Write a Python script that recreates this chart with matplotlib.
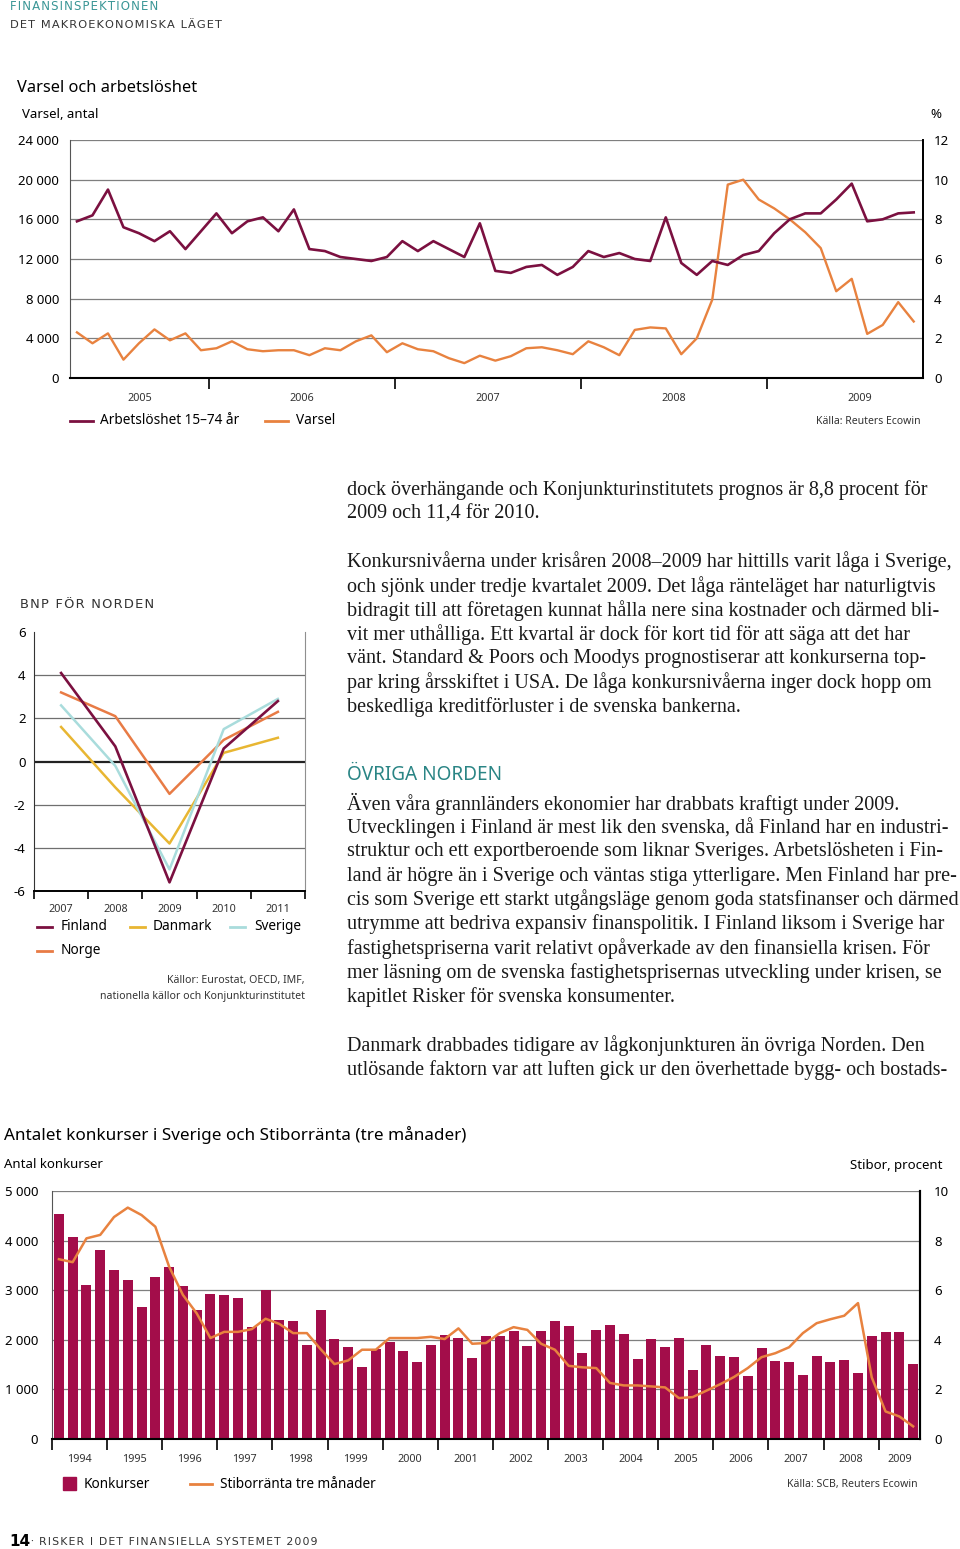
import matplotlib
matplotlib.use('Agg')
import matplotlib.pyplot as plt
import matplotlib.ticker as mticker
from matplotlib.lines import Line2D
from matplotlib.patches import Rectangle
import numpy as np

W, H = 960, 1549

# ── data: Varsel och arbetslöshet (monthly, Apr 2005 - Oct 2009) ──────────────
start_month = 4
arbetsloshet = [7.9, 8.2, 9.5, 7.6, 7.3, 6.9, 7.4, 6.5, 7.4, 8.3, 7.3, 7.9, 8.1, 7.4, 8.5,
                6.5, 6.4, 6.1, 6.0, 5.9, 6.1, 6.9, 6.4, 6.9, 6.5, 6.1, 7.8,
                5.4, 5.3, 5.6, 5.7, 5.2, 5.6, 6.4, 6.1, 6.3, 6.0, 5.9, 8.1, 5.8, 5.2, 5.9,
                5.7, 6.2, 6.4, 7.3, 8.0, 8.3, 8.3, 9.0, 9.8, 7.9, 8.0, 8.3, 8.35]
varsel = [4600, 3500, 4500, 1850, 3500, 4900, 3800, 4500, 2800, 3000, 3700, 2900, 2700, 2800,
          2800, 2300, 3000, 2800, 3700, 4300, 2600, 3500, 2900, 2700, 2000, 1500, 2250,
          1750, 2200, 3000, 3100, 2800, 2400, 3700, 3100, 2300, 4850, 5100, 5000, 2400, 4000,
          7900, 19500, 20000, 18000, 17100, 16000, 14700, 13100, 8750, 10000, 4450, 5350, 7650, 5700]
varsel_years = ['2005', '2006', '2007', '2008', '2009']

# ── data: BNP för Norden ──────────────────────────────────────────────────────
bnp_years = ['2007', '2008', '2009', '2010', '2011']
finland = [4.1, 0.7, -5.6, 0.6, 2.8]
danmark = [1.6, -1.2, -3.8, 0.4, 1.1]
sverige = [2.6, -0.2, -5.0, 1.5, 2.9]
norge = [3.2, 2.1, -1.5, 1.0, 2.3]

# ── data: Konkurser och Stibor (quarterly, 1994Q1 - 2009Q3) ───────────────────
konk_years = [str(y) for y in range(1994, 2010)]
konkurser = [4540, 4080, 3110, 3820, 3400, 3200, 2660, 3270, 3460, 3080, 2600, 2920,
             2910, 2840, 2260, 3000, 2400, 2380, 1890, 2610, 2010, 1860, 1450, 1820,
             1950, 1770, 1550, 1890, 2090, 2030, 1640, 2070, 2070, 2170, 1870, 2170,
             2380, 2270, 1730, 2200, 2290, 2110, 1610, 2010, 1850, 2030, 1390, 1890,
             1670, 1650, 1280, 1830, 1580, 1560, 1290, 1680, 1560, 1600, 1330, 2070,
             2160, 2150, 1520]
stibor = [7.25, 7.13, 8.09, 8.23, 8.95, 9.33, 9.03, 8.56, 6.95, 5.81, 5.07, 4.07,
          4.32, 4.32, 4.43, 4.85, 4.64, 4.27, 4.27, 3.62, 3.02, 3.17, 3.60, 3.60,
          4.07, 4.07, 4.07, 4.12, 4.03, 4.46, 3.84, 3.87, 4.27, 4.51, 4.40, 3.84,
          3.60, 2.95, 2.89, 2.86, 2.26, 2.16, 2.16, 2.12, 2.08, 1.65, 1.69, 1.95,
          2.21, 2.50, 2.86, 3.30, 3.46, 3.70, 4.27, 4.67, 4.83, 4.97, 5.48, 2.48,
          1.11, 0.91, 0.51]

# ── colours ──
PURPLE = '#7B1040'
ORANGE = '#E8823F'
BAR = '#A30D4A'
DAN = '#E8B632'
SVE = '#A9DCDC'
NOR = '#E87B45'
TEAL = '#3A9696'
GRID = '#7f7f7f'
SANS = ['Noto Sans', 'DejaVu Sans']
SERIF = ['Liberation Serif', 'DejaVu Serif']

plt.rcParams['font.family'] = SANS
fig = plt.figure(figsize=(W / 100, H / 100), dpi=100)


def fx(x):
    return x / W


def fy(y):
    return 1 - y / H


def rect(l, t, r, b):
    return [l / W, 1 - b / H, (r - l) / W, (b - t) / H]


def txt(x, y, s, size, ha='left', **kw):
    fig.text(fx(x), fy(y), s, fontsize=size, ha=ha, va='center', **kw)


def spaced(s):
    return '\u200a'.join(s)


def hline(x0, x1, y, color, lw=2):
    fig.add_artist(Line2D([fx(x0), fx(x1)], [fy(y), fy(y)], color=color, lw=lw,
                          transform=fig.transFigure))


thousands = mticker.FuncFormatter(lambda v, p: f'{int(v):,}'.replace(',', ' '))

# ── header ──
txt(10, 7, spaced('FINANSINSPEKTIONEN'), 8.5, color=TEAL, family=['DejaVu Sans'])
txt(10, 25, spaced('DET MAKROEKONOMISKA LÄGET'), 8.2, color='#333333', family=['DejaVu Sans'])

# ── chart 1: Varsel och arbetslöshet ─────────────────────────────────────────
txt(17, 88, 'Varsel och arbetslöshet', 11.8)
txt(22, 115, 'Varsel, antal', 9.5)
txt(930, 115, '%', 9.5)

n1 = len(varsel)
x1 = np.arange(n1)
ax1 = fig.add_axes(rect(70, 140, 923, 378))
ax1.set_xlim(-0.45, n1 - 0.4)
ax1.set_ylim(0, 24000)
ax1.plot(x1, varsel, color=ORANGE, lw=1.7, zorder=3)
ax1.set_yticks(range(0, 24001, 4000))
ax1.yaxis.set_major_formatter(thousands)
ax1.grid(axis='y', color=GRID, lw=0.9)
ax1.set_axisbelow(True)
ax1.tick_params(axis='y', length=0, pad=8, labelsize=9.5)

bounds = [i - 0.5 for i in range(n1) if (start_month - 1 + i) % 12 == 0]
edges = [ax1.get_xlim()[0]] + bounds + [bounds[-1] + 12]
centers = [(edges[i] + edges[i + 1]) / 2 for i in range(len(edges) - 1)]
ax1.set_xticks(bounds)
ax1.set_xticklabels([])
ax1.tick_params(axis='x', which='major', length=8, width=1.2, direction='out')
ax1.set_xticks(centers, minor=True)
ax1.set_xticklabels(varsel_years, minor=True)
ax1.tick_params(axis='x', which='minor', length=0, pad=11, labelsize=7.8, labelcolor='#333333')
ax1.spines['top'].set_visible(False)
ax1.spines['left'].set_color('#555555')
ax1.spines['bottom'].set_linewidth(1.5)
ax1.spines['right'].set_linewidth(1.3)

ax1r = ax1.twinx()
ax1r.set_ylim(0, 12)
ax1r.plot(x1, arbetsloshet, color=PURPLE, lw=1.9, zorder=4)
ax1r.set_yticks(range(0, 13, 2))
ax1r.tick_params(axis='y', length=0, pad=8, labelsize=9.5)
for s in ['top', 'left', 'bottom']:
    ax1r.spines[s].set_visible(False)
ax1r.spines['right'].set_linewidth(1.3)

hline(70, 93, 421, PURPLE)
txt(100, 421, 'Arbetslöshet 15–74 år', 9.8)
hline(265, 288, 421, ORANGE)
txt(296, 421, 'Varsel', 9.8)
txt(921, 421, 'Källa: Reuters Ecowin', 7.5, ha='right', color='#333333')

# ── chart 2: BNP för Norden ───────────────────────────────────────────────────
txt(20, 605, spaced('BNP FÖR NORDEN'), 9.4, color='#333333', family=['DejaVu Sans'])
ax2 = fig.add_axes(rect(34, 632, 305, 891))
xb = np.arange(len(bnp_years))
ax2.set_xlim(-0.5, len(bnp_years) - 0.5)
ax2.set_ylim(-6, 6)
ax2.plot(xb, norge, color=NOR, lw=1.8)
ax2.plot(xb, danmark, color=DAN, lw=1.8)
ax2.plot(xb, sverige, color=SVE, lw=1.8)
ax2.plot(xb, finland, color=PURPLE, lw=1.9)
ax2.set_yticks(range(-6, 7, 2))
ax2.yaxis.set_major_formatter(mticker.FuncFormatter(lambda v, p: f'{int(v)}'))
for v in [-4, -2, 2, 4]:
    ax2.axhline(v, color='#6f6f6f', lw=0.9, zorder=0)
ax2.axhline(0, color='#222222', lw=1.6, zorder=1)
ax2.tick_params(axis='y', length=0, pad=6, labelsize=9.5)
ax2.set_xticks(np.arange(-0.5, len(bnp_years)))
ax2.set_xticklabels([])
ax2.tick_params(axis='x', which='major', length=6, width=1.2, direction='out')
ax2.set_xticks(xb, minor=True)
ax2.set_xticklabels(bnp_years, minor=True)
ax2.tick_params(axis='x', which='minor', length=0, pad=9, labelsize=7.8, labelcolor='#333333')
ax2.spines['top'].set_visible(False)
ax2.spines['right'].set_color('#8f8f8f')
ax2.spines['left'].set_color('#333333')
ax2.spines['bottom'].set_linewidth(1.4)

hline(37, 52, 927, PURPLE)
txt(61, 927, 'Finland', 9.8)
hline(130, 145, 927, DAN)
txt(153, 927, 'Danmark', 9.8)
hline(230, 245, 927, SVE)
txt(254, 927, 'Sverige', 9.8)
hline(37, 52, 951, NOR)
txt(61, 951, 'Norge', 9.8)
txt(305, 981, 'Källor: Eurostat, OECD, IMF,', 7.6, ha='right', color='#333333')
txt(305, 997, 'nationella källor och Konjunkturinstitutet', 7.6, ha='right', color='#333333')

# ── body text ──
body = [
    (490, 'dock överhängande och Konjunkturinstitutets prognos är 8,8 procent för'),
    (514, '2009 och 11,4 för 2010.'),
    (562, 'Konkursnivåerna under krisåren 2008–2009 har hittills varit låga i Sverige,'),
    (587, 'och sjönk under tredje kvartalet 2009. Det låga ränteläget har naturligtvis'),
    (611, 'bidragit till att företagen kunnat hålla nere sina kostnader och därmed bli-'),
    (635, 'vit mer uthålliga. Ett kvartal är dock för kort tid för att säga att det har'),
    (659, 'vänt. Standard & Poors och Moodys prognostiserar att konkurserna top-'),
    (683, 'par kring årsskiftet i USA. De låga konkursnivåerna inger dock hopp om'),
    (707, 'beskedliga kreditförluster i de svenska bankerna.'),
    (804, 'Även våra grannländers ekonomier har drabbats kraftigt under 2009.'),
    (828, 'Utvecklingen i Finland är mest lik den svenska, då Finland har en industri-'),
    (852, 'struktur och ett exportberoende som liknar Sveriges. Arbetslösheten i Fin-'),
    (876, 'land är högre än i Sverige och väntas stiga ytterligare. Men Finland har pre-'),
    (900, 'cis som Sverige ett starkt utgångsläge genom goda statsfinanser och därmed'),
    (924, 'utrymme att bedriva expansiv finanspolitik. I Finland liksom i Sverige har'),
    (949, 'fastighetspriserna varit relativt opåverkade av den finansiella krisen. För'),
    (973, 'mer läsning om de svenska fastighetsprisernas utveckling under krisen, se'),
    (997, 'kapitlet Risker för svenska konsumenter.'),
    (1046, 'Danmark drabbades tidigare av lågkonjunkturen än övriga Norden. Den'),
    (1070, 'utlösande faktorn var att luften gick ur den överhettade bygg- och bostads-'),
]
for y, s in body:
    txt(347, y, s, 14.5, family=SERIF, color='#1a1a1a')
txt(347, 775, 'ÖVRIGA NORDEN', 13.7, color='#2A8585')

# ── chart 3: Konkurser och Stibor ─────────────────────────────────────────────
txt(4, 1135, 'Antalet konkurser i Sverige och Stiborränta (tre månader)', 12.3)
txt(4, 1165, 'Antal konkurser', 9.5)
txt(942, 1165, 'Stibor, procent', 9.5, ha='right')

n3 = len(konkurser)
x3 = np.arange(n3)
ax3 = fig.add_axes(rect(52, 1191, 920, 1439))
ax3.set_xlim(-0.5, n3 - 0.5)
ax3.set_ylim(0, 5000)
ax3.bar(x3, konkurser, width=0.72, color=BAR, zorder=2)
ax3.set_yticks(range(0, 5001, 1000))
ax3.yaxis.set_major_formatter(thousands)
ax3.grid(axis='y', color=GRID, lw=0.9, zorder=0)
ax3.set_axisbelow(True)
ax3.tick_params(axis='y', length=0, pad=10, labelsize=9.5)
ybounds = np.arange(-0.5, n3, 4)
ycent = [min(b + 2, (b + n3 - 0.5) / 2) for b in ybounds]
ax3.set_xticks(ybounds)
ax3.set_xticklabels([])
ax3.tick_params(axis='x', which='major', length=8, width=1.2, direction='out')
ax3.set_xticks(ycent, minor=True)
ax3.set_xticklabels(konk_years, minor=True)
ax3.tick_params(axis='x', which='minor', length=0, pad=11, labelsize=7.8, labelcolor='#333333')
ax3.spines['top'].set_visible(False)
ax3.spines['left'].set_color('#555555')
ax3.spines['bottom'].set_linewidth(1.5)
ax3.spines['right'].set_linewidth(1.5)

ax3r = ax3.twinx()
ax3r.set_ylim(0, 10)
ax3r.plot(x3, stibor, color=ORANGE, lw=1.8)
ax3r.set_yticks(range(0, 11, 2))
ax3r.tick_params(axis='y', length=0, pad=10, labelsize=9.5)
for s in ['top', 'left', 'bottom']:
    ax3r.spines[s].set_visible(False)
ax3r.spines['right'].set_linewidth(1.5)

fig.add_artist(Rectangle((fx(63), fy(1490)), 13 / W, 13 / H, color=BAR, transform=fig.transFigure))
txt(84, 1484, 'Konkurser', 9.8)
hline(190, 212, 1484, ORANGE)
txt(220, 1484, 'Stiborränta tre månader', 9.8)
txt(918, 1484, 'Källa: SCB, Reuters Ecowin', 7.6, ha='right', color='#333333')

# ── footer ──
txt(9, 1542, '14', 11, weight='bold', family=['DejaVu Sans'])
txt(30, 1542, '·', 8, color='#333333')
txt(39, 1542, spaced('RISKER I DET FINANSIELLA SYSTEMET 2009'), 7.8,
    color='#333333', family=['DejaVu Sans'])

fig.savefig('out.png', dpi=100)
